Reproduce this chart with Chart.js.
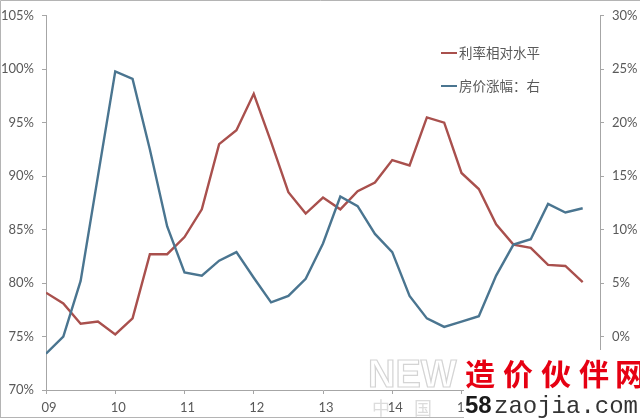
<!DOCTYPE html>
<html>
<head>
<meta charset="utf-8">
<script src="https://cdn.jsdelivr.net/npm/chart.js@4.4.1/dist/chart.umd.min.js"></script>
<style>
html, body { margin: 0; padding: 0; background: #fff; }
#wrap { width: 640px; height: 419px; }
</style>
</head>
<body>
<div id="wrap"><canvas id="rateChart" width="640" height="419"></canvas></div>
<script>
// quarterly data, 09Q1 .. 16Q4
var yearLabels = ['09', '10', '11', '12', '13', '14', '15', '16', '17'];
var seriesNames = ['利率相对水平', '房价涨幅：右'];
var rateLevel = [79.1, 78.1, 76.2, 76.4, 75.2, 76.7, 82.7, 82.7, 84.3, 86.9, 93.0, 94.3, 97.7, 93.2, 88.5, 86.5,
                 88.0, 86.9, 88.6, 89.4, 91.5, 91.0, 95.5, 95.0, 90.3, 88.8, 85.5, 83.6, 83.3, 81.7, 81.6, 80.1];
var priceGrowth = [-1.6, 0.0, 5.2, 15.0, 24.8, 24.1, 17.5, 10.3, 6.0, 5.7, 7.1, 7.9, 5.5, 3.2, 3.8, 5.4,
                   8.7, 13.1, 12.2, 9.6, 7.9, 3.8, 1.7, 0.9, 1.4, 1.9, 5.7, 8.6, 9.1, 12.4, 11.6, 12.0];
var leftTicks = [70, 75, 80, 85, 90, 95, 100, 105];
var rightTicks = [0, 5, 10, 15, 20, 25, 30];

var axisColor = '#a6a6a6';
var labelColor = '#595959';
var tickFont = { family: 'Lato', size: 13 };

function toPoints(arr) {
    var pts = [];
    for (var i = 0; i < arr.length; i++) {
        pts.push({ x: i, y: arr[i] });
    }
    return pts;
}

var decorPlugin = {
    id: 'decor',
    beforeDraw: function(chart) {
        var ctx = chart.ctx;
        ctx.save();
        ctx.fillStyle = '#fff';
        ctx.fillRect(0, 0, chart.width, chart.height);
        ctx.restore();
    },
    afterDraw: function(chart) {
        var ctx = chart.ctx;
        ctx.save();

        // legend inside the plot, top right
        chart.data.datasets.forEach(function(ds, k) {
            var y = 53 + k * 33;
            ctx.strokeStyle = ds.borderColor;
            ctx.lineWidth = 2;
            ctx.beginPath();
            ctx.moveTo(441, y);
            ctx.lineTo(457, y);
            ctx.stroke();
            ctx.fillStyle = labelColor;
            ctx.font = '13.5px "Noto Sans CJK SC"';
            ctx.textBaseline = 'middle';
            ctx.textAlign = 'left';
            ctx.fillText(ds.label, 459, y);
        });

        // frame round the picture
        ctx.strokeStyle = '#b4b4b4';
        ctx.lineWidth = 1;
        ctx.beginPath();
        ctx.moveTo(0.5, 418);
        ctx.lineTo(0.5, 0.5);
        ctx.lineTo(640, 0.5);
        ctx.moveTo(0, 417.5);
        ctx.lineTo(464, 417.5);
        ctx.stroke();

        // faint grey watermark
        ctx.font = 'bold 38px "Liberation Sans"';
        ctx.textBaseline = 'alphabetic';
        ctx.strokeStyle = '#d4d4d4';
        ctx.lineWidth = 1.2;
        ctx.strokeText('NEW', 368, 387);
        ctx.fillStyle = '#dcdcdc';
        ctx.font = '18px "Noto Sans CJK SC"';
        ctx.fillText('中', 372, 415);
        ctx.fillText('国', 414, 415);

        // site watermark, bottom right
        ctx.fillStyle = '#fff';
        ctx.fillRect(464, 350, 176, 69);
        ctx.fillStyle = '#e60012';
        ctx.font = 'bold 30px "Noto Sans CJK SC"';
        ctx.textBaseline = 'top';
        var wm = '造价伙伴网';
        var wx = [465, 503, 541, 579, 615];
        for (var i = 0; i < wm.length; i++) {
            ctx.fillText(wm[i], wx[i], 359);
        }
        ctx.textBaseline = 'alphabetic';
        ctx.fillStyle = '#1a1a1a';
        ctx.font = 'bold 24px "Liberation Sans"';
        ctx.fillText('58', 465, 413);
        ctx.fillStyle = '#333';
        ctx.font = '24px "Liberation Mono"';
        ctx.fillText('zaojia.com', 494, 413);

        ctx.restore();
    }
};

var ctx = document.getElementById('rateChart').getContext('2d');
var rateChart = new Chart(ctx, {
    type: 'line',
    data: {
        datasets: [{
            label: seriesNames[0],
            data: toPoints(rateLevel),
            yAxisID: 'y',
            borderColor: '#a9504d',
            borderWidth: 2.4,
            pointRadius: 0,
            tension: 0,
            order: 2
        }, {
            label: seriesNames[1],
            data: toPoints(priceGrowth),
            yAxisID: 'y1',
            borderColor: '#4a7590',
            borderWidth: 2.4,
            pointRadius: 0,
            tension: 0,
            order: 1
        }]
    },
    options: {
        responsive: false,
        animation: false,
        layout: { padding: { top: 14, left: 0, right: 0, bottom: 0 } },
        plugins: {
            legend: { display: false },
            tooltip: { enabled: false }
        },
        scales: {
            x: {
                type: 'linear',
                min: 0,
                max: (yearLabels.length - 1) * 4,
                afterFit: function(s) { s.height = 29; },
                grid: { drawOnChartArea: false, tickLength: 4, color: axisColor },
                border: { color: axisColor },
                ticks: {
                    stepSize: 4,
                    padding: 6,
                    labelOffset: 3,
                    maxRotation: 0,
                    color: labelColor,
                    font: tickFont,
                    callback: function(v) { return yearLabels[Math.round(v / 4)]; }
                }
            },
            y: {
                position: 'left',
                min: leftTicks[0],
                max: leftTicks[leftTicks.length - 1],
                afterFit: function(s) { s.width = 46; },
                grid: { drawOnChartArea: false, tickLength: 4, color: axisColor },
                border: { color: axisColor },
                ticks: {
                    stepSize: 5,
                    padding: 8,
                    color: labelColor,
                    font: tickFont,
                    callback: function(v) { return v + '%'; }
                }
            },
            y1: {
                position: 'right',
                min: rightTicks[0] - 5,
                max: rightTicks[rightTicks.length - 1],
                afterFit: function(s) { s.width = 40; },
                grid: { drawOnChartArea: false, tickLength: 4, color: axisColor },
                border: { color: axisColor },
                ticks: {
                    stepSize: 5,
                    padding: 8,
                    color: labelColor,
                    font: tickFont,
                    callback: function(v) { return v < rightTicks[0] ? '' : v + '%'; }
                }
            }
        }
    },
    plugins: [decorPlugin]
});
</script>
</body>
</html>
